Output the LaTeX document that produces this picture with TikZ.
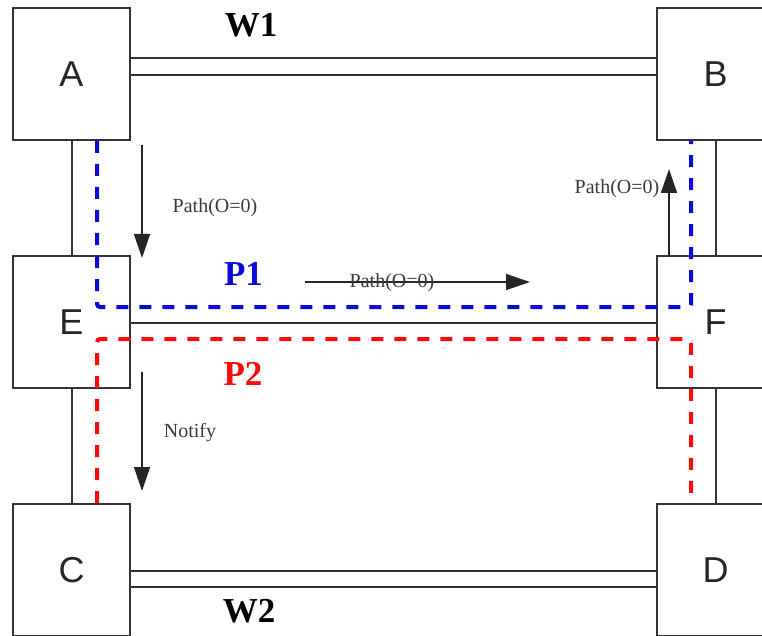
\documentclass[tikz,border=0pt]{standalone}
\usepackage{fontspec}
\setmainfont{Liberation Serif}
\newfontfamily\boxfont{Liberation Sans}
\usetikzlibrary{arrows.meta}
\definecolor{edge}{HTML}{333333}
\definecolor{pblue}{HTML}{0A0ADC}
\definecolor{pred}{HTML}{FF0A0A}
\definecolor{lbl}{HTML}{3A3A3A}
\begin{document}
\begin{tikzpicture}[x=1pt,y=-1pt,
  nodebox/.style={draw=edge,line width=2pt,fill=white,minimum width=117pt,minimum height=132pt,inner sep=0pt,font=\boxfont\fontsize{36}{36}\selectfont,text=black!85},
  link/.style={draw=edge,line width=2pt},
  pathdash/.style={line width=4pt,dash pattern=on 12pt off 11pt,rounded corners=3pt},
  msg/.style={draw=black!85,line width=1.5pt,-{Triangle[length=24pt,width=16pt]}},
  small/.style={font=\fontsize{20}{20}\selectfont,text=lbl,inner sep=0pt},
  big/.style={font=\bfseries\fontsize{35}{35}\selectfont,inner sep=0pt}]
\useasboundingbox (0,0) rectangle (762,636);
\clip (0,0) rectangle (762,636);
% boxes
\node[nodebox] (A) at (71.5,74) {A};
\node[nodebox] (B) at (715.5,74) {B};
\node[nodebox] (E) at (71.5,322) {E};
\node[nodebox] (F) at (715.5,322) {F};
\node[nodebox] (C) at (71.5,570) {C};
\node[nodebox] (D) at (715.5,570) {D};
% links
\draw[link] ([yshift=16pt]A.east) -- ([yshift=16pt]B.west);
\draw[link] ([yshift=-1pt]A.east) -- ([yshift=-1pt]B.west);
\draw[link] ([yshift=-1pt]C.east) -- ([yshift=-1pt]D.west);
\draw[link] ([yshift=-17pt]C.east) -- ([yshift=-17pt]D.west);
\draw[link] ([yshift=-1pt]E.east) -- ([yshift=-1pt]F.west);
\draw[link] (A.south) -- (E.north);
\draw[link] (E.south) -- (C.north);
\draw[link] (B.south) -- (F.north);
\draw[link] (F.south) -- (D.north);
% protection paths
\draw[pathdash,pblue] ([xshift=25.5pt]A.south) -- ([xshift=25.5pt,yshift=15pt]E.center)
  -- ([xshift=-24.5pt,yshift=15pt]F.center) -- ([xshift=-24.5pt]B.south);
\draw[pathdash,pred] ([xshift=25.5pt]C.north) -- ([xshift=25.5pt,yshift=-17pt]E.center)
  -- ([xshift=-24.5pt,yshift=-17pt]F.center) -- ([xshift=-24.5pt]D.north);
% messages
\coordinate (m1s) at (142,145);
\coordinate (m1e) at (142,258);
\coordinate (m2s) at (305,282);
\coordinate (m2e) at (530,282);
\coordinate (m3s) at (669,257);
\coordinate (m3e) at (669,169);
\coordinate (m4s) at (142,372);
\coordinate (m4e) at (142,491);
\draw[msg] (m1s) -- (m1e);
\draw[msg] (m2s) -- (m2e);
\draw[msg] (m3s) -- (m3e);
\draw[msg] (m4s) -- (m4e);
% labels
\node[small] (l1) at (215,208) {Path(O=0)};
\node[small] (l2) at (392,283) {Path(O=0)};
\node[small] (l3) at (617,189) {Path(O=0)};
\node[small] (l4) at (190,433) {Notify};
\node[big] (w1) at (251,25) {W1};
\node[big] (w2) at (249,611) {W2};
\node[big,text=pblue] (p1) at (243.5,274) {P1};
\node[big,text=pred] (p2) at (243,374) {P2};
\end{tikzpicture}
\end{document}
